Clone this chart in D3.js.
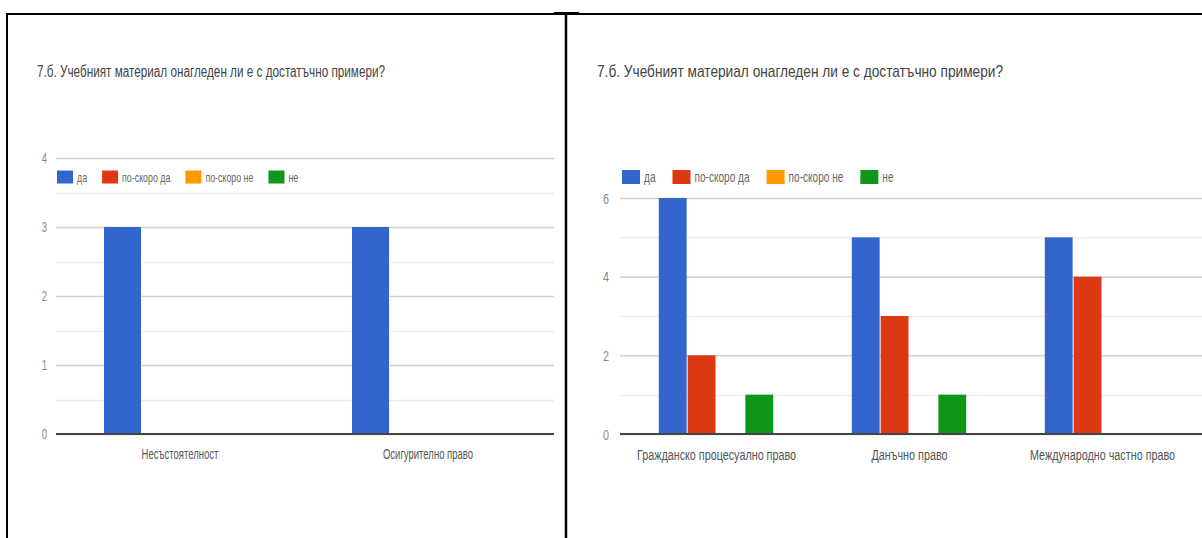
<!DOCTYPE html>
<html><head><meta charset="utf-8">
<script src="https://cdn.jsdelivr.net/npm/d3@7"></script>
<style>
html,body{margin:0;padding:0;background:#fff;}
svg{display:block;}
text{font-family:"Liberation Sans",Arial,sans-serif;}
</style></head>
<body>
<svg id="chart" width="1202" height="538"></svg>
<script>
// ---- data ----
const titleText = "7.б. Учебният материал онагледен ли е с достатъчно примери?";
const seriesNames = ["да", "по-скоро да", "по-скоро не", "не"];
const seriesColors = ["#3366cc", "#dc3912", "#ff9900", "#109618"];

const leftCategories = ["Несъстоятелност", "Осигурително право"];
const leftDa = [3, 3];
const leftPoSkoroDa = [0, 0];
const leftPoSkoroNe = [0, 0];
const leftNe = [0, 0];
const leftTicks = [0, 1, 2, 3, 4];
const leftMinorTicks = [0.5, 1.5, 2.5, 3.5];

const rightCategories = ["Гражданско процесуално право", "Данъчно право", "Международно частно право"];
const rightDa = [6, 5, 5];
const rightPoSkoroDa = [2, 3, 4];
const rightPoSkoroNe = [0, 0, 0];
const rightNe = [1, 1, 0];
const rightTicks = [0, 2, 4, 6];
const rightMinorTicks = [1, 3, 5];

// ---- layout ----
const svg = d3.select("#chart");

function squashText(sel, sx) {
  sel.each(function () {
    const t = d3.select(this);
    const x = +t.attr("x"), y = +t.attr("y");
    t.attr("x", 0).attr("y", 0)
     .attr("transform", `translate(${x},${y}) scale(${sx},1)`);
  });
}

function drawPanel(cfg) {
  const g = svg.append("g");
  const series = [cfg.da, cfg.psDa, cfg.psNe, cfg.ne];
  const rows = cfg.categories.map((c, i) => ({
    cat: c,
    vals: seriesNames.map((s, k) => ({ s, k, v: series[k][i] }))
  }));

  const y = d3.scaleLinear().domain([0, cfg.yMax]).range([cfg.y0, cfg.yTop]);
  const x0 = d3.scaleBand().domain(cfg.categories).range([cfg.plotL, cfg.plotR]);
  const groupW = x0.bandwidth() * cfg.groupRatio;
  const x1 = d3.scaleBand().domain(seriesNames).range([0, groupW]);

  // title
  const tt = g.append("text").attr("x", cfg.titleX).attr("y", cfg.titleY)
    .attr("font-size", cfg.titleSize).attr("fill", "#444").text(titleText);
  tt.attr("textLength", cfg.titleW).attr("lengthAdjust", "spacingAndGlyphs");

  // minor gridlines
  g.append("g").selectAll("line").data(cfg.minor).join("line")
    .attr("x1", cfg.plotL).attr("x2", cfg.gridR)
    .attr("y1", d => Math.round(y(d)) + 0.5).attr("y2", d => Math.round(y(d)) + 0.5)
    .attr("stroke", "#ececec").attr("stroke-width", 1.5);

  // major gridlines via axis
  const axis = d3.axisLeft(y).tickValues(cfg.ticks).tickSize(-(cfg.gridR - cfg.plotL)).tickPadding(0)
    .tickFormat(d3.format("d"));
  const ag = g.append("g").attr("transform", `translate(${cfg.plotL},0)`).call(axis);
  ag.select(".domain").remove();
  ag.selectAll(".tick line").attr("stroke", "#d0d0d0").attr("stroke-width", 1.5);
  ag.selectAll(".tick text").attr("x", -cfg.tickGap).attr("fill", "#8a8a8a")
    .attr("font-size", cfg.tickSize).attr("dy", "0.35em").attr("text-anchor", "end");
  ag.selectAll(".tick text").each(function () {
    const t = d3.select(this);
    t.attr("transform", `translate(${-cfg.tickGap},0) scale(${cfg.sx},1)`).attr("x", 0);
  });

  // bars
  g.append("g").selectAll("g").data(rows).join("g")
    .attr("transform", d => `translate(${x0(d.cat) + (x0.bandwidth() - groupW) / 2},0)`)
    .selectAll("rect").data(d => d.vals.filter(v => v.v > 0)).join("rect")
    .attr("x", d => x1(d.s)).attr("width", x1.bandwidth() - 1)
    .attr("y", d => y(d.v)).attr("height", d => y(0) - y(d.v))
    .attr("fill", d => seriesColors[d.k]);

  // baseline
  g.append("line").attr("x1", cfg.plotL).attr("x2", cfg.gridR)
    .attr("y1", y(0)).attr("y2", y(0)).attr("stroke", "#444").attr("stroke-width", 2);

  // category labels
  const cl = g.append("g").selectAll("text").data(cfg.categories).join("text")
    .attr("x", d => x0(d) + x0.bandwidth() / 2).attr("y", cfg.catY)
    .attr("text-anchor", "middle").attr("font-size", cfg.catSize).attr("fill", "#555")
    .text(d => d);
  squashText(cl, cfg.sx);

  // legend
  const lg = g.append("g");
  let lx = cfg.legX;
  seriesNames.forEach((s, k) => {
    lg.append("rect").attr("x", lx).attr("y", cfg.legY - cfg.sqH / 2)
      .attr("width", cfg.sqW).attr("height", cfg.sqH).attr("fill", seriesColors[k]);
    lx += cfg.sqW + cfg.legTextGap;
    const t = lg.append("text").attr("x", lx).attr("y", cfg.legY).attr("dy", "0.35em")
      .attr("font-size", cfg.legSize).attr("fill", "#666").text(s);
    const w = t.node().getComputedTextLength() * cfg.sx;
    squashText(t, cfg.sx);
    lx += w + cfg.legItemGap;
  });
}

// left panel
drawPanel({
  categories: leftCategories, da: leftDa, psDa: leftPoSkoroDa, psNe: leftPoSkoroNe, ne: leftNe,
  ticks: leftTicks, minor: leftMinorTicks, yMax: 4,
  y0: 434, yTop: 158, plotL: 56, plotR: 552, gridR: 554, groupRatio: 0.613,
  titleX: 37, titleY: 77, titleSize: 16, titleW: 348,
  tickSize: 14, tickGap: 9, catY: 459, catSize: 14, sx: 0.68,
  legX: 57, legY: 177, sqW: 16, sqH: 13, legTextGap: 4, legItemGap: 15, legSize: 13
});

// right panel
drawPanel({
  categories: rightCategories, da: rightDa, psDa: rightPoSkoroDa, psNe: rightPoSkoroNe, ne: rightNe,
  ticks: rightTicks, minor: rightMinorTicks, yMax: 6,
  y0: 434, yTop: 198, plotL: 620, plotR: 1199, gridR: 1202, groupRatio: 0.598,
  titleX: 597, titleY: 77, titleSize: 17, titleW: 406,
  tickSize: 15, tickGap: 11, catY: 460, catSize: 15, sx: 0.72,
  legX: 622, legY: 177, sqW: 18, sqH: 14, legTextGap: 4, legItemGap: 17, legSize: 14
});

// frame lines
const frame = svg.append("g").attr("stroke", "#000");
frame.append("line").attr("x1", 6).attr("x2", 1202).attr("y1", 14).attr("y2", 14).attr("stroke-width", 2);
frame.append("line").attr("x1", 7).attr("x2", 7).attr("y1", 13).attr("y2", 538).attr("stroke-width", 2);
frame.append("line").attr("x1", 566).attr("x2", 566).attr("y1", 13).attr("y2", 538).attr("stroke-width", 2.5);
frame.append("line").attr("x1", 554).attr("x2", 579).attr("y1", 13.5).attr("y2", 13.5).attr("stroke-width", 3);
</script>
</body></html>
